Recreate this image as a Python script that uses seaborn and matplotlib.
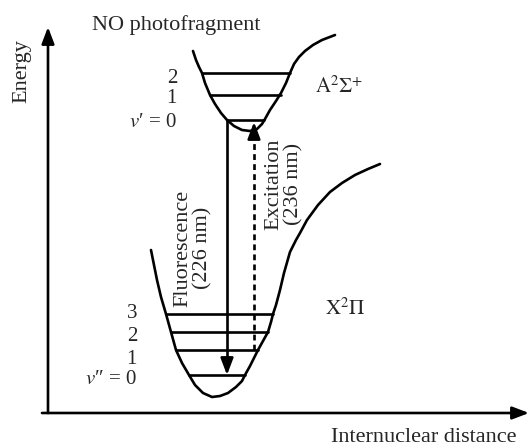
import numpy as np
import pandas as pd
import matplotlib
matplotlib.use("Agg")
import matplotlib.pyplot as plt
import seaborn as sns

sns.set_theme(style="white")
plt.rcParams['font.family'] = ['Liberation Serif', 'DejaVu Serif']
plt.rcParams['mathtext.fontset'] = 'stix'

# ---- data (figure units: x right, y downward) ----
# upper state A2Sigma+ potential curve
A_curve_x = [193, 196, 199, 202, 205, 210, 215, 221, 227, 234, 242, 250, 257, 262, 265,
             270, 276, 281, 286, 290, 294, 299, 305, 313, 322, 335]
A_curve_y = [51, 60, 67, 73, 83, 95, 104, 113, 120, 126, 130, 131, 129, 124, 119,
             110, 101, 93, 83, 73, 64, 57, 51, 45, 40, 35]
# ground state X2Pi potential curve
X_curve_x = [151, 154, 157, 161, 166, 171, 176, 182, 189, 195, 203, 212, 220, 228, 236,
             242, 245, 250, 254, 258, 263, 268, 271, 273, 276, 280, 284, 290, 296, 300,
             307, 318, 330, 342, 355, 368, 380]
X_curve_y = [250, 265, 280, 297, 314, 332, 350, 363, 375, 385, 393, 397, 396, 393, 387,
             381, 375, 366, 358, 350, 341, 332, 322, 314, 305, 290, 273, 252, 240, 233,
             220, 205, 192, 183, 175, 169, 164]

# vibrational levels (v = 0, 1, 2 ...)
A_levels_y = [120, 95, 73]
A_levels_xl = [227, 210, 202]
A_levels_xr = [264, 281, 290]
X_levels_y = [375, 350, 332, 314]
X_levels_xl = [189, 176, 171, 166]
X_levels_xr = [245, 258, 268, 273]

A_level_labels = ["$v$\u2032 = 0", "1", "2"]
A_label_y = [127, 103, 83]
X_level_labels = ["$v$\u2033 = 0", "1", "2", "3"]
X_label_y = [384, 364, 341, 318]

# transitions: (x, start y, end y)
fluor_x, fluor_from, fluor_to = 227, 120, 375
excit_x, excit_from, excit_to = 254, 350, 122

# ---- build tables ----
rows = []
for x, y in zip(A_curve_x, A_curve_y):
    rows.append(("A", x, y))
for x, y in zip(X_curve_x, X_curve_y):
    rows.append(("X", x, y))
for i, (y, xl, xr) in enumerate(zip(A_levels_y, A_levels_xl, A_levels_xr)):
    rows += [(f"A{i}", xl, y), (f"A{i}", xr, y)]
for i, (y, xl, xr) in enumerate(zip(X_levels_y, X_levels_xl, X_levels_xr)):
    rows += [(f"X{i}", xl, y), (f"X{i}", xr, y)]
df = pd.DataFrame(rows, columns=["part", "x", "y"])

trans = pd.DataFrame({
    "part": ["F", "F", "E", "E"],
    "x": [fluor_x, fluor_x, excit_x, excit_x],
    "y": [fluor_from, fluor_to - 12, excit_from, excit_to + 12],
})

fig = plt.figure(figsize=(5.29, 4.48), dpi=100)
ax = fig.add_axes([0, 0, 1, 1])
ax.set_xlim(0, 529)
ax.set_ylim(448, 0)
ax.axis("off")

lw = 1.9
sns.lineplot(data=df, x="x", y="y", units="part", estimator=None, sort=False,
             color="black", lw=lw, ax=ax, legend=False)
sns.lineplot(data=trans[trans.part == "F"], x="x", y="y", estimator=None, sort=False,
             color="black", lw=lw, ax=ax, legend=False)
sns.lineplot(data=trans[trans.part == "E"], x="x", y="y", estimator=None, sort=False,
             color="black", lw=lw, ax=ax, legend=False, linestyle=(0, (2.2, 1.6)))

head = "-|>,head_length=1.0,head_width=0.38"
def arrow(x0, y0, x1, y1):
    ax.annotate("", xy=(x1, y1), xytext=(x0, y0),
                arrowprops=dict(arrowstyle=head, color="black", lw=lw,
                                shrinkA=0, shrinkB=0, mutation_scale=10))

arrow(fluor_x, fluor_to - 14, fluor_x, fluor_to)
arrow(excit_x, excit_to + 14, excit_x, excit_to)
# axes arrows
arrow(48, 413, 48, 27)
arrow(42, 413, 529, 413)

# ---- text ----
ax.text(176, 30, "NO photofragment", ha="center", va="baseline", fontsize=16)
ax.text(22, 71, "Energy", ha="center", va="center", rotation=90, fontsize=16)
ax.text(424, 437, "Internuclear distance", ha="center", va="center", fontsize=16)
for lab, y in zip(A_level_labels, A_label_y):
    ax.text(177, y, lab, ha="right", va="baseline", fontsize=15)
for lab, y in zip(X_level_labels, X_label_y):
    ax.text(137, y, lab, ha="right", va="baseline", fontsize=15)
ax.text(315, 93, r"$\mathrm{A}^2\Sigma^{+}$", ha="left", va="baseline", fontsize=15)
ax.text(325, 315, r"$\mathrm{X}^2\Pi$", ha="left", va="baseline", fontsize=15)
ax.text(193, 248, "Fluorescence\n(226 nm)", ha="center", va="center", rotation=90,
        multialignment="center", fontsize=16, linespacing=1.1)
ax.text(284, 184, "Excitation\n(236 nm)", ha="center", va="center", rotation=90,
        multialignment="center", fontsize=16, linespacing=1.1)

fig.savefig("out.png", dpi=100)
